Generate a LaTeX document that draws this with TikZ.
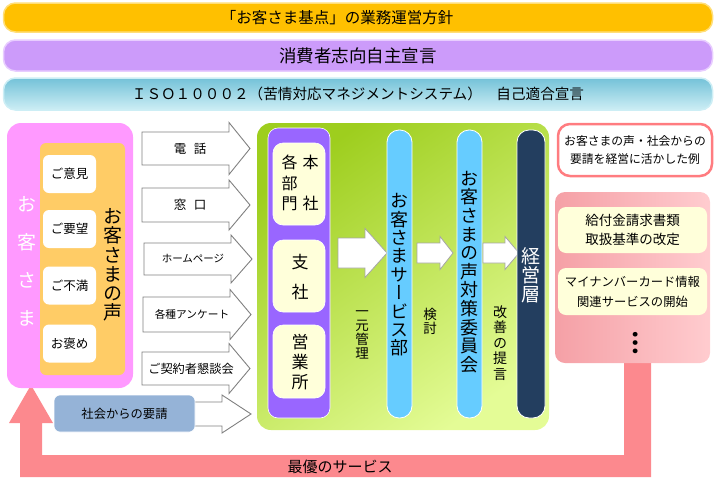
\documentclass[tikz,border=0pt]{standalone}
\usepackage{fontspec}
\setmainfont{Noto Sans CJK JP}
\newfontfamily\tate[RawFeature=+vert]{Noto Sans CJK JP}
\usepackage{tikz}

\definecolor{kogane}{RGB}{255,192,0}
\definecolor{koganeedge}{RGB}{255,222,120}
\definecolor{fuji}{RGB}{204,155,250}
\definecolor{fujiedge}{RGB}{232,205,255}
\definecolor{mizu}{RGB}{116,194,216}
\definecolor{mizulight}{RGB}{205,238,245}
\definecolor{momo}{RGB}{255,153,255}
\definecolor{daidai}{RGB}{255,204,102}
\definecolor{yoseki}{RGB}{149,179,215}
\definecolor{wakaba}{RGB}{158,206,30}
\definecolor{wakabalight}{RGB}{228,252,150}
\definecolor{murasaki}{RGB}{153,102,255}
\definecolor{kinari}{RGB}{255,255,218}
\definecolor{sora}{RGB}{102,204,255}
\definecolor{kon}{RGB}{35,62,95}
\definecolor{sango}{RGB}{252,137,142}
\definecolor{sangoedge}{RGB}{255,124,128}
\definecolor{usubeni}{RGB}{245,160,166}
\definecolor{usubenilight}{RGB}{255,204,207}
\definecolor{nezumi}{RGB}{128,128,128}

% one character per line, vertical forms switched on
\newcommand{\vfont}[2]{\tate\fontsize{#1}{#2}\selectfont}
% block arrow: x start, x head, x tip, y middle, body half, head half
\newcommand{\blockarrow}[7][blockarr]{%
	\path[#1] (#2,{#5-#6}) -- (#3,{#5-#6}) -- (#3,{#5-#7}) -- (#4,#5)
		-- (#3,{#5+#7}) -- (#3,{#5+#6}) -- (#2,{#5+#6}) -- cycle;}

\tikzset{
	band/.style={line width=1.5pt,rounded corners=12pt,minimum width=709,inner sep=0pt},
	blockarr/.style={draw=nezumi,fill=white,line width=0.9pt},
	innerarr/.style={draw=nezumi!70,fill=white,line width=0.8pt},
	whitebox/.style={fill=white,rounded corners=6pt,minimum width=53,minimum height=38,
		font=\fontsize{12.5}{15}\selectfont},
	creambox/.style={fill=kinari,draw=white,line width=0.6pt,rounded corners=10pt,minimum width=52},
	bar/.style={draw=white,line width=0.8pt,rounded corners=12pt,minimum height=288},
	vtxt/.style={align=center,inner sep=0pt},
	arrlabel/.style={inner sep=0pt},
	example/.style={fill=kinari,rounded corners=8pt,minimum width=149,align=center,
		font=\fontsize{13.5}{19}\selectfont}
}

\begin{document}
\begin{tikzpicture}[x=1pt,y=-1pt]
	\useasboundingbox (0,0) rectangle (715,488);

	% policy bands
	\node[band,draw=koganeedge,fill=kogane,minimum height=29] (policy) at (358,17.5) {};
	\node[font=\fontsize{15.5}{18}\selectfont] (policytxt) at (337,17.5) {「お客さま基点」の業務運営方針};
	\node[band,draw=fujiedge,fill=fuji,minimum height=31,font=\fontsize{17.5}{20}\selectfont] (consumer) at (358,55.5) {消費者志向自主宣言};
	\node[band,draw=mizulight,top color=mizu,bottom color=mizulight,minimum height=32,
		font=\fontsize{14.6}{18}\selectfont] (iso) at (358,94) {ＩＳＯ１０００２（苦情対応マネジメントシステム）　自己適合宣言};

	% return arrow
	\path[fill=sango] (624,362) -- (624,455) -- (42,455) -- (42,423) -- (53,423) -- (31,385)
		-- (9,423) -- (20,423) -- (20,477) -- (651,477) -- (651,362) -- cycle;
	\node[font=\fontsize{15}{18}\selectfont] (best) at (340,466.5) {最優のサービス};

	% customers
	\node[fill=momo,rounded corners=14pt,minimum width=126,minimum height=265] (customer) at (70,255.5) {};
	\node[fill=daidai,rounded corners=6pt,minimum width=85,minimum height=232] (voice) at (82.5,259) {};
	\node[vtxt,text=white,font=\vfont{19}{38}] (customertxt) at (27,261) {お\\客\\さ\\ま};
	\node[vtxt,font=\vfont{19}{19.3}] (voicetxt) at (113,265) {お\\客\\さ\\ま\\の\\声};
	\node[whitebox] (opinion) at (69.5,174) {ご意見};
	\node[whitebox] (request) at (69.5,229) {ご要望};
	\node[whitebox] (complaint) at (69.5,285.5) {ご不満};
	\node[whitebox] (praise) at (69.5,343.5) {お褒め};

	% channels
	\blockarrow{142}{229}{250}{148.5}{16.5}{26}
	\node[arrlabel,font=\fontsize{12.5}{15}\selectfont] (phone) at (190,148.5) {電\hspace{0.6em}話};
	\blockarrow{142}{229}{250}{205}{17}{25}
	\node[arrlabel,font=\fontsize{12.5}{15}\selectfont] (counter) at (190,205) {窓\hspace{0.6em}口};
	\blockarrow{144}{231}{252}{259}{16}{24}
	\node[arrlabel,font=\fontsize{10.5}{13}\selectfont] (web) at (193,259) {ホームページ};
	\blockarrow{143}{230}{251}{314.5}{17.5}{25}
	\node[arrlabel,font=\fontsize{10.7}{13}\selectfont] (survey) at (192,314.5) {各種アンケート};
	\blockarrow{142}{229}{250}{368.5}{16.5}{25}
	\node[arrlabel,font=\fontsize{12.2}{15}\selectfont] (meeting) at (191,368.5) {ご契約者懇談会};
	\blockarrow{185}{222}{251}{414}{12}{19}
	\node[fill=yoseki,draw=white,line width=0.6pt,rounded corners=6pt,minimum width=141,minimum height=37,
		font=\fontsize{12.3}{15}\selectfont] (society) at (124.5,413.5) {社会からの要請};

	% company
	\node[rounded corners=14pt,minimum width=292,minimum height=307,
		top color=wakaba,bottom color=wakabalight,shading angle=35] (company) at (403,276.5) {};
	\node[fill=murasaki,draw=white,line width=0.6pt,rounded corners=10pt,minimum width=62,minimum height=290] (branches) at (299,273) {};
	\node[creambox,minimum height=82] (head) at (299,184) {};
	\node[vtxt,font=\vfont{16}{41}] (headtxt) at (310.5,183) {本\\社};
	\node[vtxt,font=\vfont{16}{20.5}] (depttxt) at (289.5,183) {各\\部\\門};
	\node[creambox,minimum height=72] (branch) at (299,276) {};
	\node[vtxt,font=\vfont{17}{30}] (branchtxt) at (300,277) {支\\社};
	\node[creambox,minimum height=73] (office) at (299,361.5) {};
	\node[vtxt,font=\vfont{17}{20}] (officetxt) at (300,362) {営\\業\\所};

	\blockarrow[innerarr]{338}{365}{387}{253}{15}{24.5}
	\node[vtxt,font=\vfont{13.5}{14}] (unify) at (362,335) {一\\元\\管\\理};
	\node[bar,fill=sora,minimum width=25] (service) at (399.5,274) {};
	\node[vtxt,font=\vfont{18}{18.4}] (servicetxt) at (399.5,275) {お\\客\\さ\\ま\\サ\\ー\\ビ\\ス\\部};
	\blockarrow[innerarr]{417}{440}{453}{253}{10}{16.5}
	\node[vtxt,font=\vfont{13.5}{14}] (review) at (430,321) {検\\討};
	\node[bar,fill=sora,minimum width=25] (committee) at (469.5,274) {};
	\node[vtxt,font=\vfont{18}{18.6}] (committeetxt) at (469.5,272) {お\\客\\さ\\ま\\の\\声\\対\\策\\委\\員\\会};
	\blockarrow[innerarr]{483}{505}{519}{253}{10}{16.5}
	\node[vtxt,font=\vfont{14}{15.5}] (proposal) at (500,343) {改\\善\\の\\提\\言};
	\node[bar,fill=kon,minimum width=28] (board) at (531,274) {};
	\node[vtxt,text=white,font=\vfont{19}{19}] (boardtxt) at (531,275) {経\\営\\層};

	% examples
	\node[draw=sangoedge,fill=white,line width=2.5pt,rounded corners=12pt,minimum width=154,minimum height=52,
		align=center,font=\fontsize{11.8}{18}\selectfont] (cases) at (635,150) {お客さまの声・社会からの\\要請を経営に活かした例};
	\node[rounded corners=10pt,minimum width=155,minimum height=171,
		left color=usubeni,right color=usubenilight] (results) at (632.5,277.5) {};
	\node[example,minimum height=46] (claim) at (632.5,230) {給付金請求書類\\取扱基準の改定};
	\node[example,minimum height=47,font=\fontsize{12.3}{20}\selectfont] (mynumber) at (632.5,291.5) {マイナンバーカード情報\\関連サービスの開始};
	\node[vtxt,rotate=-90,font=\bfseries\fontsize{22}{22}\selectfont] (more) at (636,343) {…};
\end{tikzpicture}
\end{document}
